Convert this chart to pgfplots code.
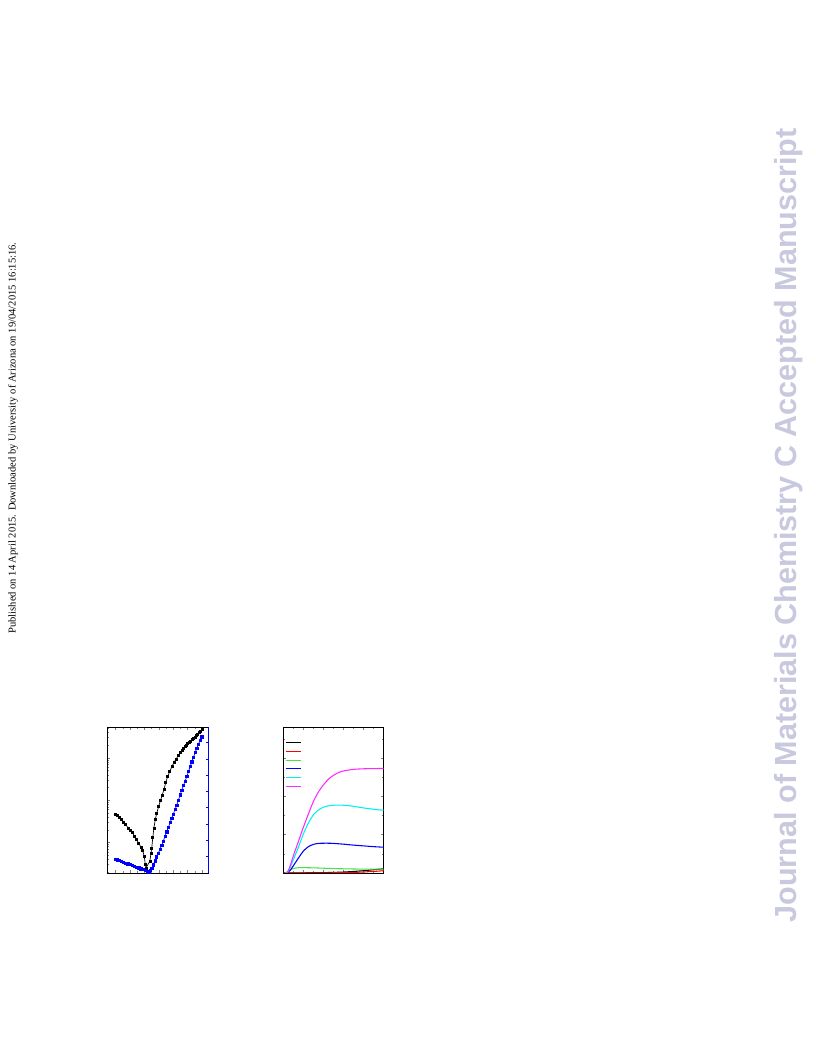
\documentclass[border=0pt]{standalone}
\usepackage{fontspec}
\setmainfont{Liberation Serif}
\newfontfamily\wmfont{Liberation Sans}
\usepackage{pgfplots}
\pgfplotsset{compat=1.18}
\definecolor{wmcol}{RGB}{200,200,222}
\definecolor{lgreen}{RGB}{70,225,70}
\definecolor{lmag}{RGB}{255,40,255}
\definecolor{lcyan}{RGB}{0,240,240}
\begin{document}
\begin{tikzpicture}
\path[fill=white] (0,0) rectangle (612pt,792pt);
\node[rotate=90, inner sep=0pt, font=\fontsize{7.9}{9}\selectfont] at (9.75pt,463.5pt)
  {Published on 14 April 2015. Downloaded by University of Arizona on 19/04/2015 16:15:16.};
\node[rotate=90, inner sep=0pt, text=wmcol, font=\wmfont\bfseries\fontsize{22.9}{26}\selectfont] at (591.75pt,398pt)
  {Journal of Materials Chemistry C Accepted Manuscript};

% ---- chart 1 (left axis, log) ----
\begin{axis}[at={(80.25pt,137.25pt)}, anchor=south west, scale only axis,
  width=76pt, height=109.5pt,
  xmin=-1.21, xmax=12.86, ymode=log, ymin=0.192, ymax=541,
  xtick={0,2,...,12}, minor xtick={1,3,...,11},
  ytick={1,10,100},
  minor ytick={0.2,0.3,0.4,0.5,0.6,0.7,0.8,0.9,2,3,4,5,6,7,8,9,20,30,40,50,60,70,80,90,200,300,400,500},
  xticklabels={}, yticklabels={}, ytick pos=left,
  tick align=inside, major tick length=2pt, minor tick length=1.2pt,
  tick style={line width=0.5pt},
  axis line style={line width=0.6pt}]
\addplot[black, line width=0.5pt, mark=square*, mark size=0.75pt] coordinates {
(-0.1,4.79) (0.2,4.37) (0.5,3.89) (0.8,3.47) (1.1,3.09) (1.4,2.69) (1.7,2.24)
(2.0,2.0) (2.3,1.74) (2.6,1.45) (2.9,1.20) (3.2,0.955) (3.5,0.794) (3.75,0.661)
(3.95,0.479) (4.1,0.316) (4.2,0.251) (4.75,0.372) (4.9,0.562) (5.0,0.741)
(5.15,1.32) (5.3,2.24) (5.5,3.55) (5.7,5.01) (5.95,7.08) (6.2,9.77) (6.45,13.2)
(6.7,18.2) (6.95,26.3) (7.2,36.3) (7.5,47.9) (7.8,63.1) (8.1,79.4) (8.4,95.5)
(8.7,115) (9.0,135) (9.2,152) (9.4,170) (9.6,185) (9.8,200) (10.0,217) (10.2,234)
(10.4,254) (10.6,275) (10.8,295) (11.0,316) (11.2,343) (11.4,372) (11.6,403)
(11.8,437) (12.0,479)};
\end{axis}
% ---- chart 1 (right axis, linear, blue) ----
\begin{axis}[at={(80.25pt,137.25pt)}, anchor=south west, scale only axis,
  width=76pt, height=109.5pt,
  xmin=-1.21, xmax=12.86, ymin=0, ymax=8.96,
  axis x line=none, axis y line*=right,
  y axis line style={blue, line width=0.8pt},
  ytick={1,...,8}, yticklabels={}, ytick style={blue, line width=0.5pt},
  tick align=inside, major tick length=2pt]
\addplot[blue, line width=0.5pt, mark=square*, mark size=0.85pt] coordinates {
(-0.1,0.86) (0.2,0.81) (0.5,0.76) (0.8,0.71) (1.1,0.66) (1.4,0.61) (1.7,0.56)
(2.0,0.51) (2.3,0.46) (2.6,0.41) (2.9,0.36) (3.2,0.31) (3.5,0.26) (3.8,0.21)
(4.1,0.16) (4.35,0.11) (4.6,0.06) (4.8,0.15) (5.0,0.29) (5.2,0.5) (5.45,0.75)
(5.69,1.0) (5.9,1.2) (6.15,1.46) (6.39,1.72) (6.6,1.96) (6.85,2.25) (7.08,2.53)
(7.3,2.79) (7.55,3.09) (7.78,3.36) (8.0,3.62) (8.25,3.91) (8.47,4.17) (8.7,4.46)
(8.95,4.8) (9.17,5.09) (9.4,5.36) (9.63,5.64) (9.86,5.91) (10.1,6.22) (10.33,6.53)
(10.56,6.83) (10.8,7.12) (11.03,7.39) (11.25,7.65) (11.48,7.9) (11.71,8.13)
(11.94,8.36)};
\end{axis}

% ---- chart 2 ----
\begin{axis}[at={(212.5pt,137.25pt)}, anchor=south west, scale only axis,
  width=75.3pt, height=109.5pt,
  xmin=0, xmax=10, ymin=0, ymax=7.65,
  xtick={0,2,...,10}, minor xtick={1,3,...,9},
  ytick={0,2,4,6}, minor ytick={1,3,5,7},
  xticklabels={}, yticklabels={},
  tick align=inside, major tick length=2pt, minor tick length=1.2pt,
  tick style={line width=0.5pt},
  axis line style={line width=0.6pt},
  every axis plot/.append style={line width=0.8pt},
  legend image code/.code={\draw[#1] (0pt,0pt) -- (11.8pt,0pt);},
  legend style={draw=none, fill=none, at={(0.017,0.922)}, anchor=north west,
    inner sep=0pt, outer sep=0pt, row sep=0pt,
    nodes={inner sep=0pt, text height=4.5pt, text depth=2pt}}]
\addplot[black] coordinates {(0,0) (1,0.005) (2,0.01) (3,0.015) (4,0.02) (5,0.03) (6,0.05) (7,0.08) (8,0.12) (9,0.17) (10,0.22)};
\addlegendentry{\mbox{}}
\addplot[red] coordinates {(0,0) (2,0) (4,0.005) (6,0.02) (7,0.03) (8,0.05) (8.5,0.07) (9,0.08) (9.5,0.1) (10,0.12)};
\addlegendentry{\mbox{}}
\addplot[lgreen, smooth, tension=0.5] coordinates {(0.2,0) (0.5,0.1) (0.8,0.2) (1.2,0.26) (1.6,0.28) (2.0,0.28) (3.0,0.27) (4.0,0.25) (5.0,0.23) (6.0,0.22) (7.0,0.21) (8.0,0.2) (9.0,0.2) (10,0.2)};
\addlegendentry{\mbox{}}
\addplot[blue, smooth, tension=0.5] coordinates {(0.4,0) (0.7,0.15) (1.0,0.38) (1.5,0.78) (2.0,1.15) (2.5,1.38) (3.0,1.5) (3.5,1.55) (4.0,1.56) (4.5,1.56) (5.0,1.55) (6.0,1.51) (7.0,1.46) (8.0,1.42) (9.0,1.38) (10,1.35)};
\addlegendentry{\mbox{}}
\addplot[lcyan, smooth, tension=0.5] coordinates {(0.35,0) (0.6,0.2) (1.0,0.7) (1.5,1.35) (2.0,2.05) (2.5,2.62) (3.0,3.05) (3.5,3.3) (4.0,3.45) (4.5,3.52) (5.0,3.55) (5.5,3.56) (6.0,3.55) (6.5,3.53) (7.0,3.49) (7.5,3.45) (8.0,3.41) (8.5,3.37) (9.0,3.34) (9.5,3.31) (10,3.29)};
\addlegendentry{\mbox{}}
\addplot[lmag, smooth, tension=0.5] coordinates {(0.35,0) (0.6,0.25) (1.0,0.9) (1.5,1.65) (2.0,2.4) (2.5,3.1) (3.0,3.75) (3.5,4.25) (4.0,4.62) (4.5,4.92) (5.0,5.12) (5.5,5.26) (6.0,5.35) (7.0,5.43) (8.0,5.46) (9.0,5.47) (10,5.48)};
\addlegendentry{\mbox{}}
\end{axis}
\end{tikzpicture}
\end{document}
